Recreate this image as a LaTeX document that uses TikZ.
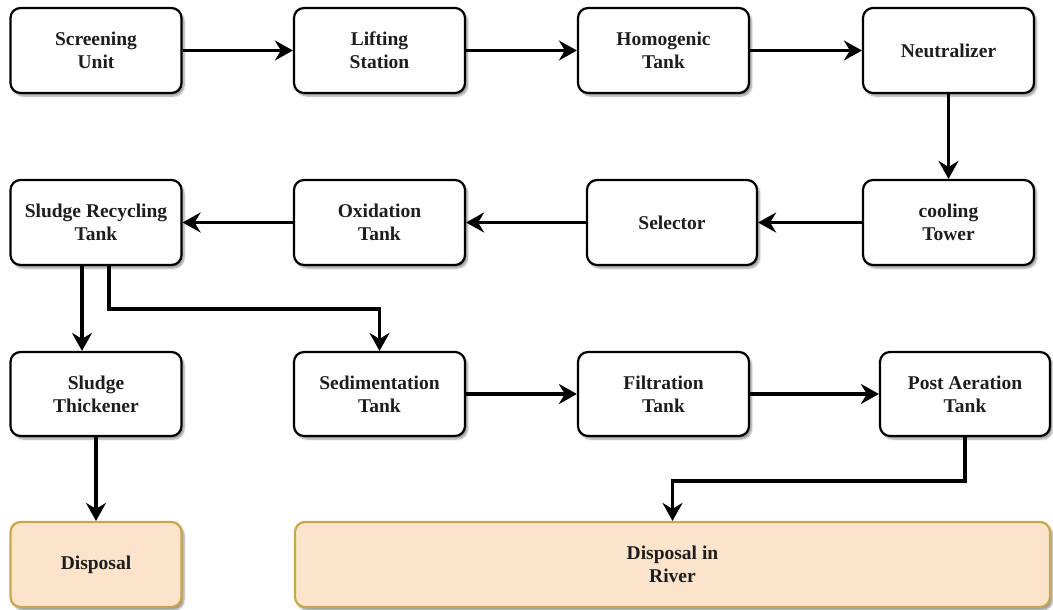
\documentclass[tikz,border=0pt]{standalone}
\usepackage{fontspec}
\setmainfont{Liberation Serif}
\newfontfamily\boxfont{Liberation Serif Bold}
\usetikzlibrary{arrows.meta,shadows.blur,positioning}
\definecolor{txt}{HTML}{1E1E1E}
\definecolor{orfill}{HTML}{FCE4CC}
\definecolor{orline}{HTML}{C9A64A}
\tikzset{
  box/.style={draw=black, line width=2.2pt, rounded corners=10pt, fill=white,
    align=center, text=txt, font=\boxfont\fontsize{19.5}{23}\selectfont,
    minimum height=85pt, minimum width=171pt, inner sep=0pt,
    blur shadow={shadow xshift=2.5pt, shadow yshift=-3pt, shadow blur steps=6, shadow opacity=40}},
  obox/.style={box, fill=orfill, draw=orline},
  arr/.style={line width=3.6pt, -{Stealth[length=18pt,width=20pt,inset=6pt]}}
}
\begin{document}
\begin{tikzpicture}[x=1pt,y=-1pt]
\useasboundingbox (0,0) rectangle (1053,610);
% row 1
\node[box] (su) at (96,50.5) {Screening\\Unit};
\node[box] (ls) at (379.5,50.5) {Lifting\\Station};
\node[box] (ht) at (663.5,50.5) {Homogenic\\Tank};
\node[box] (ne) at (948.5,50.5) {Neutralizer};
% row 2
\node[box] (sr) at (96,222.5) {Sludge Recycling\\Tank};
\node[box] (ox) at (379.5,222.5) {Oxidation\\Tank};
\node[box, minimum width=170pt] (sel) at (672,222.5) {Selector};
\node[box] (ct) at (948.5,222.5) {cooling\\Tower};
% row 3
\node[box, minimum height=84pt] (st) at (96,394) {Sludge\\Thickener};
\node[box, minimum height=84pt] (sed) at (379.5,394) {Sedimentation\\Tank};
\node[box, minimum height=84pt] (ft) at (663.5,394) {Filtration\\Tank};
\node[box, minimum height=84pt, minimum width=170pt] (pa) at (965,394) {Post Aeration\\Tank};
% row 4
\node[obox] (dis) at (96,564.5) {Disposal};
\node[obox, minimum width=755pt] (riv) at (672.5,564.5) {Disposal in\\River};
% connectors
\draw[arr] (su.east) -- (ls.west);
\draw[arr] (ls.east) -- (ht.west);
\draw[arr] (ht.east) -- (ne.west);
\draw[arr] (ne.south) -- (ct.north);
\draw[arr] (ct.west) -- (sel.east);
\draw[arr] (sel.west) -- (ox.east);
\draw[arr] (ox.west) -- (sr.east);
\draw[arr] ([xshift=-14pt]sr.south) -- ([xshift=-14pt]st.north);
\draw[arr] ([xshift=13pt]sr.south) -- ++(0,43) -| (sed.north);
\draw[arr] (st.south) -- (dis.north);
\draw[arr] (sed.east) -- (ft.west);
\draw[arr] (ft.east) -- (pa.west);
\draw[arr] (pa.south) -- ++(0,44) -| (riv.north);
\end{tikzpicture}
\end{document}
